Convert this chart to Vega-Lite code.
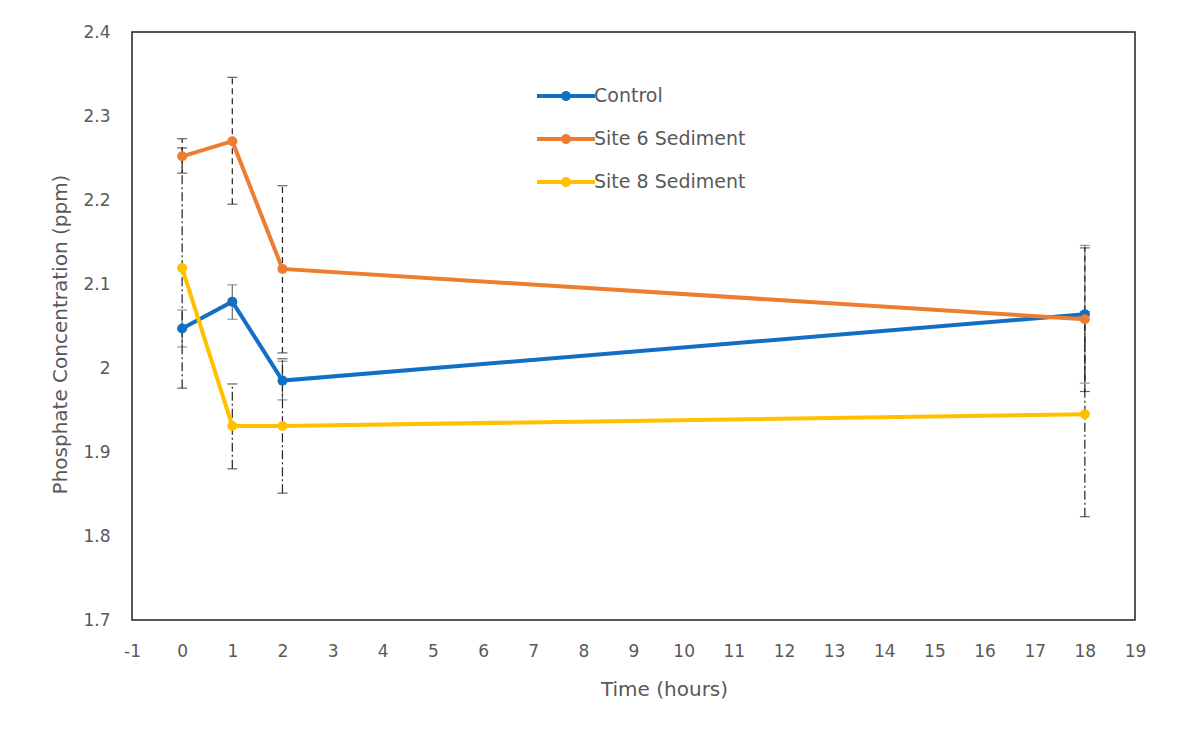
{
  "$schema": "https://vega.github.io/schema/vega-lite/v6.json",
  "autosize": "none",
  "width": 1003,
  "height": 588,
  "padding": {"left": 132, "top": 32, "right": 42, "bottom": 116},
  "background": "white",
  "config": {
    "view": {"stroke": "#222222", "strokeWidth": 1.5},
    "font": "DejaVu Sans",
    "axis": {"grid": false, "ticks": false, "domain": false, "labelFlush": false, "labelColor": "#595959", "titleColor": "#595959", "labelFontSize": 17, "titleFontSize": 20, "titleFontWeight": "normal", "labelFont": "DejaVu Sans", "titleFont": "DejaVu Sans"},
    "legend": {"labelFont": "DejaVu Sans"}
  },
  "data": {"values": [
    {"series": "Control", "time": 0, "value": 2.047, "lo": 2.025, "hi": 2.069},
    {"series": "Control", "time": 1, "value": 2.079, "lo": 2.058, "hi": 2.099},
    {"series": "Control", "time": 2, "value": 1.985, "lo": 1.962, "hi": 2.008},
    {"series": "Control", "time": 18, "value": 2.064, "lo": 1.982, "hi": 2.146},
    {"series": "Site 6 Sediment", "time": 0, "value": 2.252, "lo": 2.232, "hi": 2.273},
    {"series": "Site 6 Sediment", "time": 1, "value": 2.270, "lo": 2.195, "hi": 2.346},
    {"series": "Site 6 Sediment", "time": 2, "value": 2.118, "lo": 2.018, "hi": 2.217},
    {"series": "Site 6 Sediment", "time": 18, "value": 2.058, "lo": 1.972, "hi": 2.143},
    {"series": "Site 8 Sediment", "time": 0, "value": 2.119, "lo": 1.976, "hi": 2.262},
    {"series": "Site 8 Sediment", "time": 1, "value": 1.931, "lo": 1.880, "hi": 1.981},
    {"series": "Site 8 Sediment", "time": 2, "value": 1.931, "lo": 1.851, "hi": 2.011},
    {"series": "Site 8 Sediment", "time": 18, "value": 1.945, "lo": 1.823, "hi": 2.067}
  ]},
  "encoding": {
    "x": {"field": "time", "type": "quantitative", "scale": {"domain": [-1, 19], "nice": false, "zero": false},
      "axis": {"values": [-1,0,1,2,3,4,5,6,7,8,9,10,11,12,13,14,15,16,17,18,19], "labelExpr": "'' + datum.value", "title": "Time (hours)", "labelPadding": 23, "titlePadding": 20, "titleX": 532}}
  },
  "layer": [
    {
      "mark": {"type": "rule", "strokeWidth": 1.2},
      "encoding": {
        "y": {"field": "lo", "type": "quantitative"},
        "y2": {"field": "hi"},
        "stroke": {"field": "series", "type": "nominal", "scale": {"range": ["#6b6b6b", "#222222", "#222222"]}, "legend": null},
        "strokeDash": {"field": "series", "type": "nominal", "scale": {"range": [[1, 0], [6, 4], [9, 3, 2, 3]]}, "legend": null}
      }
    },
    {
      "mark": {"type": "tick", "orient": "horizontal", "size": 10, "thickness": 1.2},
      "encoding": {
        "y": {"field": "lo", "type": "quantitative"},
        "fill": {"field": "series", "type": "nominal", "scale": {"range": ["#6b6b6b", "#222222", "#222222"]}, "legend": null}
      }
    },
    {
      "mark": {"type": "tick", "orient": "horizontal", "size": 10, "thickness": 1.2},
      "encoding": {
        "y": {"field": "hi", "type": "quantitative"},
        "fill": {"field": "series", "type": "nominal", "legend": null}
      }
    },
    {
      "mark": {"type": "line", "strokeWidth": 4},
      "encoding": {
        "y": {"field": "value", "type": "quantitative"},
        "color": {"field": "series", "type": "nominal", "scale": {"domain": ["Control", "Site 6 Sediment", "Site 8 Sediment"], "range": ["#1170C4", "#ED7D31", "#FFC000"]},
          "legend": {"title": null, "orient": "none", "legendX": 405, "legendY": 35, "padding": 0, "symbolType": "M-1,-0.069L1,-0.069L1,0.069L-1,0.069Z M0.172,0 A0.172,0.172 0 1,1 -0.172,0 A0.172,0.172 0 1,1 0.172,0Z", "symbolSize": 3364, "symbolStrokeWidth": 0, "labelFontSize": 19, "labelColor": "#595959", "labelOffset": -1, "rowPadding": 4, "labelLimit": 400}}
      }
    },
    {
      "mark": {"type": "point", "filled": true, "size": 100, "opacity": 1},
      "encoding": {
        "y": {"field": "value", "type": "quantitative", "scale": {"domain": [1.7, 2.4], "nice": false, "zero": false},
          "axis": {"values": [1.7, 1.8, 1.9, 2.0, 2.1, 2.2, 2.3, 2.4], "labelExpr": "format(datum.value, '.1~f')", "title": "Phosphate Concentration (ppm)", "labelPadding": 22, "titlePadding": 12, "titleY": 302}},
        "color": {"field": "series", "type": "nominal"}
      }
    }
  ]
}
